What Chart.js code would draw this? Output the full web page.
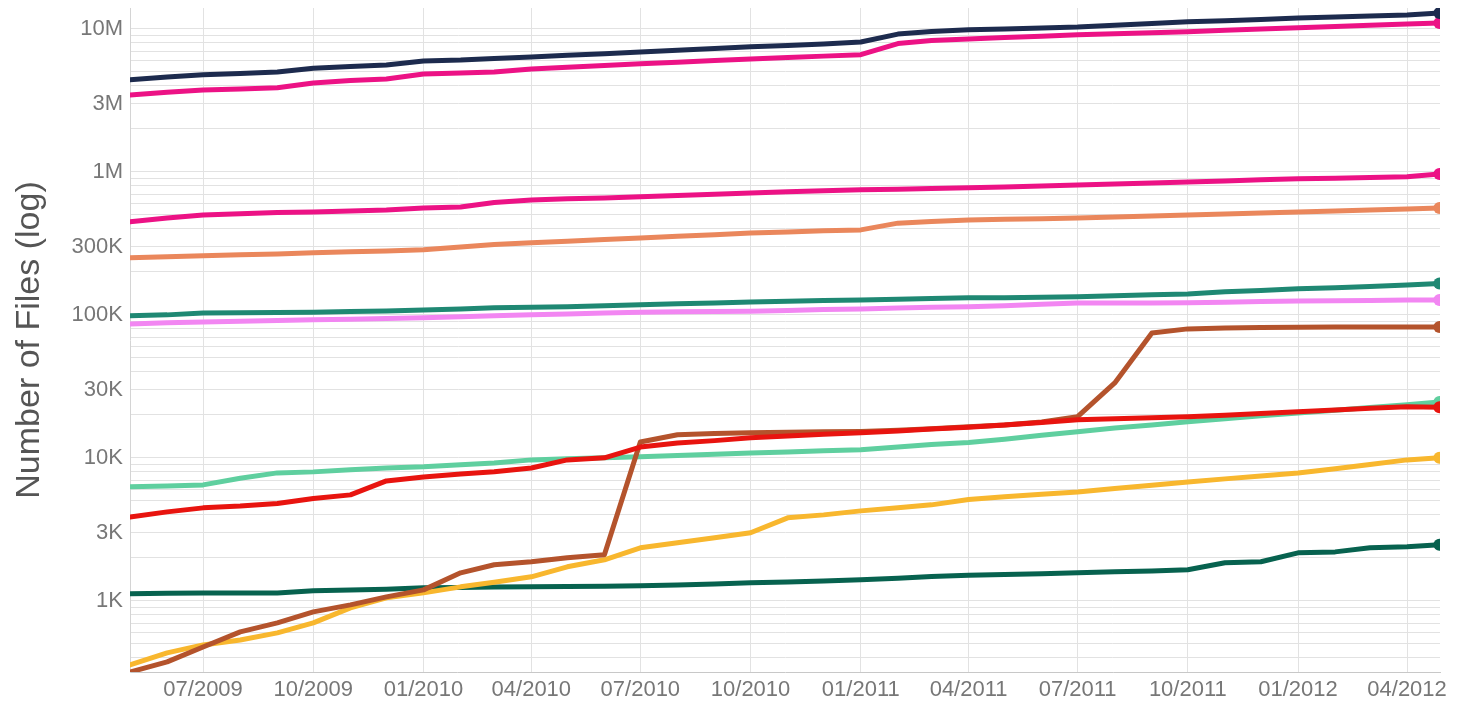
<!DOCTYPE html>
<html lang="en">
<head>
    <meta charset="UTF-8">
    <title>Number of Files (log)</title>
    <script src="https://cdn.jsdelivr.net/npm/chart.js"></script>
    <style>
        body { margin: 0; background: #fff; }
    </style>
</head>
<body>
    <canvas id="filesChart" width="1475" height="709"></canvas>

    <script>
// monthly samples, last one is the end of April 2012
const dates = [
    '2009-05-01', '2009-06-01', '2009-07-01', '2009-08-01', '2009-09-01', '2009-10-01',
    '2009-11-01', '2009-12-01', '2010-01-01', '2010-02-01', '2010-03-01', '2010-04-01',
    '2010-05-01', '2010-06-01', '2010-07-01', '2010-08-01', '2010-09-01', '2010-10-01',
    '2010-11-01', '2010-12-01', '2011-01-01', '2011-02-01', '2011-03-01', '2011-04-01',
    '2011-05-01', '2011-06-01', '2011-07-01', '2011-08-01', '2011-09-01', '2011-10-01',
    '2011-11-01', '2011-12-01', '2012-01-01', '2012-02-01', '2012-03-01', '2012-04-01',
    '2012-04-28'
];

const xTickLabels = ['07/2009', '10/2009', '01/2010', '04/2010', '07/2010', '10/2010',
                     '01/2011', '04/2011', '07/2011', '10/2011', '01/2012', '04/2012'];

const yTickValues = [1e3, 3e3, 1e4, 3e4, 1e5, 3e5, 1e6, 3e6, 1e7];
const yTickLabels = ['1K', '3K', '10K', '30K', '100K', '300K', '1M', '3M', '10M'];

const navy = [4.4e6, 4.6e6, 4.77e6, 4.88e6, 5.0e6, 5.3e6, 5.45e6, 5.6e6, 5.97e6, 6.05e6, 6.2e6, 6.37e6,
              6.55e6, 6.7e6, 6.9e6, 7.1e6, 7.3e6, 7.5e6, 7.65e6, 7.85e6, 8.1e6, 9.2e6, 9.6e6, 9.85e6,
              10.0e6, 10.15e6, 10.3e6, 10.6e6, 10.9e6, 11.2e6, 11.4e6, 11.65e6, 11.9e6, 12.1e6, 12.3e6, 12.5e6,
              12.9e6];
const magentaTop = [3.45e6, 3.6e6, 3.74e6, 3.8e6, 3.87e6, 4.19e6, 4.35e6, 4.47e6, 4.84e6, 4.92e6, 5.0e6, 5.25e6,
                    5.4e6, 5.55e6, 5.7e6, 5.85e6, 6.0e6, 6.17e6, 6.3e6, 6.45e6, 6.6e6, 7.9e6, 8.3e6, 8.5e6,
                    8.7e6, 8.9e6, 9.1e6, 9.25e6, 9.4e6, 9.55e6, 9.8e6, 10.0e6, 10.2e6, 10.4e6, 10.6e6, 10.8e6,
                    11.0e6];
const magentaLow = [447e3, 476e3, 500e3, 510e3, 520e3, 525e3, 532e3, 542e3, 560e3, 568e3, 610e3, 637e3,
                    648e3, 658e3, 669e3, 683e3, 698e3, 713e3, 725e3, 737e3, 749e3, 757e3, 765e3, 773e3,
                    785e3, 798e3, 811e3, 824e3, 837e3, 851e3, 865e3, 880e3, 894e3, 904e3, 914e3, 923e3,
                    968e3];
const salmon = [251e3, 255e3, 259e3, 263e3, 267e3, 272e3, 276e3, 280e3, 285e3, 298e3, 310e3, 319e3,
                327e3, 336e3, 345e3, 354e3, 364e3, 374e3, 380e3, 387e3, 393e3, 438e3, 450e3, 461e3,
                466e3, 471e3, 476e3, 484e3, 492e3, 500e3, 508e3, 516e3, 525e3, 533e3, 542e3, 551e3,
                560e3];
const teal = [98.5e3, 100e3, 103e3, 103.5e3, 104e3, 104.5e3, 105.5e3, 106.5e3, 108e3, 110e3, 112e3, 113e3,
              114e3, 116e3, 117.5e3, 119.5e3, 121e3, 123e3, 124.5e3, 126e3, 127e3, 128.5e3, 130e3, 131.5e3,
              132e3, 133e3, 134e3, 136e3, 138e3, 140e3, 145e3, 148e3, 152e3, 155e3, 158e3, 162e3,
              166e3];
const violet = [86.5e3, 88e3, 89.3e3, 90.3e3, 91.3e3, 92.3e3, 93.3e3, 94.3e3, 95.3e3, 97e3, 98.5e3, 100e3,
                101.5e3, 103e3, 104.5e3, 105e3, 105.5e3, 106e3, 107.5e3, 109e3, 110e3, 111.5e3, 113e3, 114e3,
                116e3, 118.5e3, 121e3, 121e3, 121e3, 121.5e3, 122.5e3, 124e3, 125e3, 125.5e3, 126e3, 127e3,
                127e3];
const brown = [318, 374, 476, 607, 701, 837, 937, 1066, 1193, 1570, 1787, 1876,
               2000, 2100, 12.9e3, 14.5e3, 14.8e3, 15e3, 15.1e3, 15.2e3, 15.3e3, 15.6e3, 16e3, 16.5e3,
               17e3, 17.8e3, 19.4e3, 33.4e3, 74.8e3, 79.8e3, 81e3, 81.5e3, 82e3, 82.2e3, 82.4e3, 82.4e3,
               82.4e3];
const lightGreen = [6.27e3, 6.35e3, 6.47e3, 7.2e3, 7.85e3, 7.98e3, 8.25e3, 8.5e3, 8.65e3, 8.95e3, 9.22e3, 9.68e3,
                    9.85e3, 10.0e3, 10.2e3, 10.4e3, 10.6e3, 10.8e3, 11.0e3, 11.2e3, 11.4e3, 11.9e3, 12.4e3, 12.8e3,
                    13.5e3, 14.4e3, 15.2e3, 16.2e3, 17.0e3, 17.9e3, 18.8e3, 19.7e3, 20.6e3, 21.5e3, 22.5e3, 23.5e3,
                    24.6e3];
const red = [3.86e3, 4.19e3, 4.47e3, 4.6e3, 4.8e3, 5.2e3, 5.51e3, 6.9e3, 7.36e3, 7.7e3, 8.0e3, 8.5e3,
             9.68e3, 10.0e3, 11.9e3, 12.7e3, 13.2e3, 13.8e3, 14.2e3, 14.6e3, 15.0e3, 15.4e3, 15.9e3, 16.4e3,
             17.0e3, 17.7e3, 18.5e3, 18.8e3, 19.1e3, 19.4e3, 19.9e3, 20.4e3, 21.0e3, 21.6e3, 22.2e3, 22.8e3,
             22.6e3];
const yellow = [357, 433, 492, 533, 597, 701, 894, 1049, 1137, 1253, 1350, 1472,
                1730, 1937, 2349, 2547, 2762, 2995, 3806, 3993, 4259, 4470, 4692, 5120,
                5350, 5560, 5780, 6100, 6440, 6790, 7130, 7480, 7850, 8400, 9000, 9680,
                10000];
const darkGreen = [1119, 1130, 1137, 1137, 1137, 1175, 1190, 1205, 1233, 1240, 1248, 1253,
                   1258, 1265, 1273, 1290, 1310, 1337, 1355, 1375, 1404, 1440, 1480, 1510,
                   1530, 1550, 1570, 1595, 1620, 1649, 1846, 1876, 2167, 2200, 2349, 2386,
                   2466];

// dataset 0 is drawn on top
const series = [
    { label: 'red',        values: red,        color: '#e8140f' },
    { label: 'brown',      values: brown,      color: '#b4532c' },
    { label: 'yellow',     values: yellow,     color: '#f8b72e' },
    { label: 'lightGreen', values: lightGreen, color: '#5fcf9f' },
    { label: 'darkGreen',  values: darkGreen,  color: '#07624f' },
    { label: 'navy',       values: navy,       color: '#1d2b4e' },
    { label: 'magentaTop', values: magentaTop, color: '#ec1285' },
    { label: 'magentaLow', values: magentaLow, color: '#ec1285' },
    { label: 'salmon',     values: salmon,     color: '#ea875c' },
    { label: 'teal',       values: teal,       color: '#1f8873' },
    { label: 'violet',     values: violet,     color: '#f286f2' }
];

const xValues = dates.map(d => Date.parse(d));

function monthLabelToTime(label) {
    const [mm, yyyy] = label.split('/');
    return Date.UTC(+yyyy, +mm - 1, 1);
}

const datasets = series.map(s => ({
    label: s.label,
    data: s.values.map((v, i) => ({ x: xValues[i], y: v })),
    borderColor: s.color,
    backgroundColor: s.color,
    borderWidth: 5,
    tension: 0,
    borderJoinStyle: 'round',
    borderCapStyle: 'round',
    pointRadius: s.values.map((v, i) => i === s.values.length - 1 ? 6 : 0),
    pointBorderWidth: 0,
    clip: 0
}));

const fontFamily = '"Liberation Sans", Arial, Helvetica, sans-serif';

new Chart(document.getElementById('filesChart'), {
    type: 'line',
    data: { datasets: datasets },
    options: {
        responsive: false,
        animation: false,
        devicePixelRatio: 1,
        layout: { padding: { left: 0, right: 35, top: 8, bottom: 0 } },
        plugins: {
            legend: { display: false },
            tooltip: { enabled: false }
        },
        scales: {
            x: {
                type: 'linear',
                min: Date.UTC(2009, 4, 1),
                max: Date.UTC(2012, 3, 28, 12),
                afterBuildTicks: scale => {
                    scale.ticks = xTickLabels.map(l => ({ value: monthLabelToTime(l) }));
                },
                afterFit: scale => {
                    scale.height = 37;
                    scale.paddingLeft = 0;
                    scale.paddingRight = 0;
                },
                ticks: {
                    autoSkip: false,
                    maxRotation: 0,
                    padding: 5,
                    color: '#777',
                    font: { family: fontFamily, size: 22 },
                    callback: (value, index) => xTickLabels[index]
                },
                grid: { color: '#e2e2e2', drawTicks: false },
                border: { color: '#c8c8c8', width: 1 }
            },
            y: {
                type: 'logarithmic',
                min: 318,
                max: 14.0e6,
                afterBuildTicks: scale => {
                    const ticks = [];
                    for (let e = 2; e <= 7; e++) {
                        for (let m = 1; m <= 9; m++) {
                            const v = m * Math.pow(10, e);
                            if (v >= scale.min && v <= scale.max) ticks.push({ value: v });
                        }
                    }
                    scale.ticks = ticks;
                },
                afterFit: scale => {
                    scale.width = 130;
                    scale.paddingTop = 0;
                    scale.paddingBottom = 0;
                },
                ticks: {
                    autoSkip: false,
                    padding: 7,
                    color: '#777',
                    font: { family: fontFamily, size: 22 },
                    callback: value => {
                        const idx = yTickValues.indexOf(value);
                        return idx >= 0 ? yTickLabels[idx] : '';
                    }
                },
                grid: { color: '#e2e2e2', drawTicks: false },
                border: { color: '#d4d4d4', width: 1 },
                title: {
                    display: true,
                    text: 'Number of Files (log)',
                    color: '#555',
                    font: { family: fontFamily, size: 34 },
                    padding: { top: 9, bottom: 0 }
                }
            }
        }
    }
});
    </script>
</body>
</html>
